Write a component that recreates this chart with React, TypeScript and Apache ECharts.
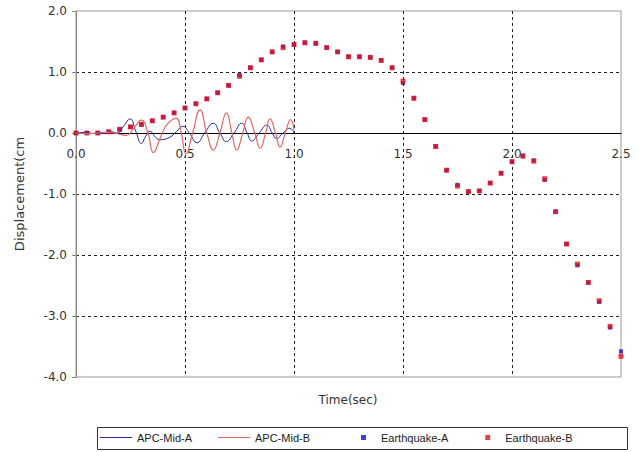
import React, { useEffect, useRef } from "react";
import * as echarts from "echarts";

// APC-Mid-A (blue line): time (s) and displacement (cm)
const apcATime = [0, 0.05, 0.08, 0.1, 0.13, 0.16, 0.19, 0.22, 0.248, 0.275, 0.3, 0.32, 0.34, 0.36, 0.385, 0.43, 0.46, 0.49, 0.52, 0.555, 0.59, 0.63, 0.66, 0.69, 0.725, 0.76, 0.785, 0.806, 0.84, 0.875, 0.9, 0.92, 0.95, 0.98, 1.0];
const apcAValue = [0, 0.01, -0.01, 0.01, -0.01, 0.02, 0.0, 0.12, 0.23, 0.02, -0.17, -0.05, 0.03, -0.05, -0.11, -0.07, 0.02, 0.11, 0.0, -0.16, 0.0, 0.16, 0.0, -0.14, 0.0, 0.16, 0.0, -0.13, 0.0, 0.13, 0.0, -0.09, 0.0, 0.08, 0.0];

// APC-Mid-B (red line)
const apcBTime = [0, 0.05, 0.1, 0.15, 0.2, 0.23, 0.26, 0.3, 0.33, 0.355, 0.39, 0.42, 0.46, 0.48, 0.505, 0.535, 0.569, 0.6, 0.63, 0.66, 0.69, 0.715, 0.737, 0.765, 0.79, 0.82, 0.845, 0.87, 0.89, 0.915, 0.936, 0.96, 0.985, 1.0];
const apcBValue = [0, -0.01, 0.0, 0.01, -0.02, -0.04, 0.05, 0.21, 0.0, -0.32, -0.05, 0.15, 0.24, 0.05, -0.34, 0.0, 0.38, 0.0, -0.28, 0.0, 0.33, 0.0, -0.28, 0.0, 0.26, 0.0, -0.25, 0.0, 0.23, 0.0, -0.23, 0.0, 0.22, 0.05];

// Earthquake records (squares)
const eqTime = [0, 0.05, 0.1, 0.15, 0.2, 0.25, 0.3, 0.35, 0.4, 0.45, 0.5, 0.55, 0.6, 0.65, 0.7, 0.75, 0.8, 0.85, 0.9, 0.95, 1.0, 1.05, 1.1, 1.15, 1.2, 1.25, 1.3, 1.35, 1.4, 1.45, 1.5, 1.55, 1.6, 1.65, 1.7, 1.75, 1.8, 1.85, 1.9, 1.95, 2.0, 2.05, 2.1, 2.15, 2.2, 2.25, 2.3, 2.35, 2.4, 2.45, 2.5];
const eqAValue = [0, 0, 0.0, 0.02, 0.06, 0.1, 0.14, 0.2, 0.26, 0.33, 0.41, 0.48, 0.56, 0.66, 0.78, 0.95, 1.07, 1.2, 1.33, 1.42, 1.45, 1.48, 1.47, 1.4, 1.33, 1.25, 1.25, 1.24, 1.19, 1.07, 0.82, 0.57, 0.22, -0.22, -0.61, -0.85, -0.96, -0.95, -0.82, -0.66, -0.47, -0.37, -0.45, -0.77, -1.29, -1.82, -2.17, -2.45, -2.77, -3.19, -3.58];
const eqBValue = [0, 0, 0.0, 0.02, 0.06, 0.1, 0.14, 0.2, 0.26, 0.33, 0.41, 0.48, 0.56, 0.66, 0.78, 0.93, 1.07, 1.2, 1.33, 1.4, 1.45, 1.48, 1.47, 1.4, 1.33, 1.25, 1.25, 1.24, 1.19, 1.07, 0.85, 0.57, 0.22, -0.22, -0.61, -0.87, -0.96, -0.95, -0.82, -0.66, -0.47, -0.38, -0.46, -0.75, -1.29, -1.82, -2.15, -2.45, -2.75, -3.17, -3.66];

const seriesNames = ["APC-Mid-A", "APC-Mid-B", "Earthquake-A", "Earthquake-B"];
const xAxisTitle = "Time(sec)";
const yAxisTitle = "Displacement(cm";

const zip = (xs: number[], ys: number[]) => xs.map((x, i) => [x, ys[i]]);

const FONT = "DejaVu Sans";
const GRID_TOP = 11;
const GRID_BOTTOM = 75;
const CHART_H = 452;
const Y_MIN = -4;
const Y_MAX = 2;

export default function App() {
  const ref = useRef<HTMLDivElement>(null);
  useEffect(() => {
    if (!ref.current) return;
    const chart = echarts.init(ref.current, null, { renderer: "svg" });
    const plotH = CHART_H - GRID_TOP - GRID_BOTTOM;
    // distance from the bottom edge of the grid up to the zero line
    const zeroOffset = (plotH * (0 - Y_MIN)) / (Y_MAX - Y_MIN);
    chart.setOption({
      animation: false,
      backgroundColor: "#ffffff",
      textStyle: { fontFamily: FONT },
      grid: {
        left: 76,
        right: 18,
        top: GRID_TOP,
        bottom: GRID_BOTTOM,
        show: true,
        borderColor: "#999999",
        borderWidth: 1,
      },
      xAxis: {
        type: "value",
        min: 0,
        max: 2.5,
        interval: 0.5,
        position: "bottom",
        offset: -zeroOffset,
        axisLine: { onZero: false, lineStyle: { color: "#000000", width: 1 } },
        axisTick: { show: false },
        axisLabel: {
          margin: 15,
          fontSize: 12,
          color: "#333333",
          fontFamily: FONT,
          formatter: (v: number) => v.toFixed(1),
        },
        splitLine: {
          show: true,
          showMinLine: false,
          showMaxLine: false,
          lineStyle: { color: "#222222", type: [3, 3], width: 1 },
        },
      },
      yAxis: {
        type: "value",
        min: Y_MIN,
        max: Y_MAX,
        interval: 1,
        name: yAxisTitle,
        nameLocation: "middle",
        nameGap: 50,
        nameTextStyle: { fontSize: 13, color: "#333333", fontFamily: FONT },
        axisLine: { show: true, onZero: false, lineStyle: { color: "#888888", width: 1 } },
        axisTick: { show: true, length: 4, lineStyle: { color: "#888888" } },
        axisLabel: {
          margin: 9,
          fontSize: 12,
          color: "#333333",
          fontFamily: FONT,
          formatter: (v: number) => v.toFixed(1),
        },
        splitLine: {
          show: true,
          showMinLine: false,
          showMaxLine: false,
          lineStyle: { color: "#222222", type: [3, 3], width: 1 },
        },
      },
      legend: [
        {
          data: [seriesNames[0], seriesNames[1]],
          left: 100,
          top: 432,
          padding: 0,
          icon: "rect",
          itemWidth: 32,
          itemHeight: 1,
          itemGap: 26,
          textStyle: { fontSize: 11, color: "#222222", fontFamily: "Liberation Sans" },
        },
        {
          data: [seriesNames[2], seriesNames[3]],
          left: 361,
          top: 432,
          padding: 0,
          icon: "rect",
          itemWidth: 5,
          itemHeight: 5,
          itemGap: 37,
          textStyle: { fontSize: 11, color: "#222222", fontFamily: "Liberation Sans", padding: [0, 0, 0, 10] },
        },
      ],
      graphic: [
        {
          type: "rect",
          shape: { x: 97.5, y: 427.5, width: 530, height: 22 },
          style: { fill: "none", stroke: "#333333", lineWidth: 1 },
          silent: true,
        },
        {
          type: "text",
          x: 348,
          y: 400,
          style: {
            text: xAxisTitle,
            fontSize: 12,
            fontFamily: FONT,
            fill: "#333333",
            textAlign: "center",
            textVerticalAlign: "middle",
          },
        },
      ],
      series: [
        {
          name: seriesNames[0],
          type: "line",
          data: zip(apcATime, apcAValue),
          smooth: 0.5,
          symbol: "none",
          showSymbol: false,
          lineStyle: { color: "#2a2a9a", width: 1 },
          itemStyle: { color: "#2a2a9a" },
        },
        {
          name: seriesNames[1],
          type: "line",
          data: zip(apcBTime, apcBValue),
          smooth: 0.5,
          symbol: "none",
          showSymbol: false,
          lineStyle: { color: "#dd6a6a", width: 1.2 },
          itemStyle: { color: "#dd6a6a" },
        },
        {
          name: seriesNames[2],
          type: "scatter",
          data: zip(eqTime, eqAValue),
          symbol: "rect",
          symbolSize: 4,
          itemStyle: { color: "#1010d0" },
        },
        {
          name: seriesNames[3],
          type: "scatter",
          data: zip(eqTime, eqBValue),
          symbol: "rect",
          symbolSize: 5,
          itemStyle: { color: "#e0101c" },
        },
      ],
    });
    return () => chart.dispose();
  }, []);
  return (
    <div
      ref={ref}
      style={{ position: "fixed", left: 0, top: 0, width: 639, height: 452, background: "#fff" }}
    />
  );
}
